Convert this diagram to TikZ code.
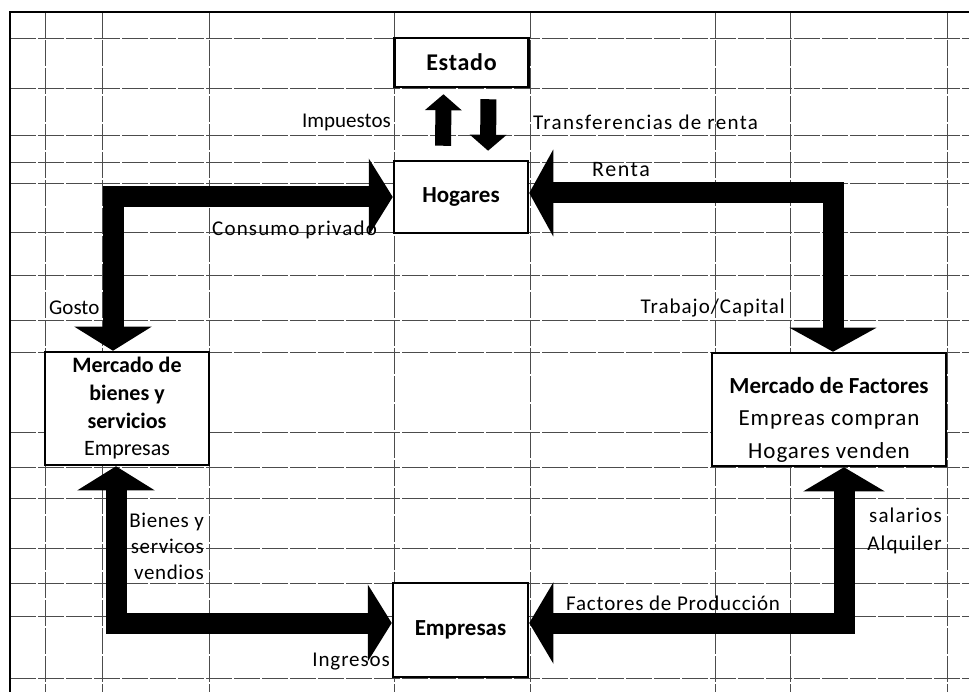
\documentclass[tikz,border=0pt]{standalone}
\usepackage{fontspec}
\setmainfont{Carlito}
\usetikzlibrary{arrows.meta, positioning, calc}

\begin{document}
\begin{tikzpicture}[x=1pt, y=-1pt,
  gridline/.style={black!70, line width=0.8pt, dash pattern=on 26pt off 2pt},
  box/.style={draw, line width=2.5pt, fill=white, inner sep=0pt, align=center, font=\fontsize{23}{28}\selectfont\bfseries},
  lbl/.style={inner sep=0pt, font=\fontsize{21}{26}\selectfont\addfontfeatures{LetterSpace=#1}},
  lbl/.default=0,
  fat/.style={line width=21pt, line join=miter, >={Triangle[width=#1, length=24pt]}, <->},
  fat/.default=78pt,
  sarr/.style={line width=16pt, -{Triangle[width=36pt, length=16pt]}}]
  \useasboundingbox (0,0) rectangle (969,692);

  % hoja de calculo
  \foreach \y in {38,88,135,162,183,232,275,320,352,432,467,498,548,583,616,678}
    \draw[gridline] (10,\y) -- (969,\y);
  \foreach \x in {45,102,209,394,530,715,790,947}
    \draw[gridline] (\x,12) -- (\x,692);
  \draw[line width=2pt] (10,692) -- (10,12) -- (969,12);

  % cajas
  \node[box, minimum width=134, minimum height=49, font=\fontsize{24}{28}\selectfont\bfseries\addfontfeatures{LetterSpace=3}] (est) at (461.5,62.5) {Estado};
  \node[box, minimum width=134, minimum height=72] (hog) at (461,197) {Hogares};
  \node[box, minimum width=164, minimum height=113, font=\fontsize{22}{27.7}\selectfont\bfseries] (mb) at (127,408.5)
    {Mercado de\\bienes y\\servicios\\\mdseries Empresas};
  \node[box, minimum width=234, minimum height=113] (mf) at (829,409.5) {};
  \node[align=center, inner sep=0pt, font=\fontsize{23}{32.5}\selectfont\addfontfeatures{LetterSpace=4}] (mft) at (829,419.5)
    {\textbf{\addfontfeatures{LetterSpace=0}Mercado de Factores}\\Empreas compran\\Hogares venden};
  \node[box, minimum width=135, minimum height=94] (emp) at (460.5,630) {Empresas};

  % flujos
  \draw[fat=76pt] ([xshift=-14pt]mb.north) |- (hog.west);
  \draw[fat=76pt] ([xshift=-11pt]mb.south) |- ([yshift=7pt]emp.west);
  \draw[fat=86pt] ([yshift=4pt]hog.east) -| ([xshift=4pt]mf.north);
  \draw[fat=80pt] ([yshift=7pt]emp.east) -| ([xshift=15pt]mf.south);
  \draw[sarr, shorten <=14pt, shorten >=6pt] ([xshift=-18pt]hog.north) -- ([xshift=-18pt]est.south);
  \draw[sarr, shorten <=11pt, shorten >=9pt] ([xshift=27pt]est.south) -- ([xshift=27pt]hog.north);

  % etiquetas
  \node[lbl, anchor=east] (limp) at (391,122) {Impuestos};
  \node[lbl=6.4, anchor=west] (ltra) at (533,122) {Transferencias de renta};
  \node[lbl=7, anchor=west, font=\fontsize{22}{26}\selectfont\addfontfeatures{LetterSpace=7}] (lren) at (592,170) {Renta};
  \node[lbl=5.5, anchor=west] (lcon) at (212,230) {Consumo privado};
  \node[lbl, anchor=west] (lgas) at (49,308) {Gosto};
  \node[lbl=4.8, anchor=east] (ltrab) at (785,308) {Trabajo/Capital};
  \node[lbl=3, anchor=east, align=right] (lbie) at (204,546) {Bienes y\\servicos\\vendios};
  \node[lbl=4.2, anchor=east] (ling) at (390,662) {Ingresos};
  \node[lbl=3.9, anchor=west] (lfac) at (566,603) {Factores de Producción};
  \node[lbl=5.5, anchor=east, align=right, font=\fontsize{21}{28}\selectfont\addfontfeatures{LetterSpace=5.5}] (lsal) at (942,531) {salarios\\Alquiler};
\end{tikzpicture}
\end{document}
